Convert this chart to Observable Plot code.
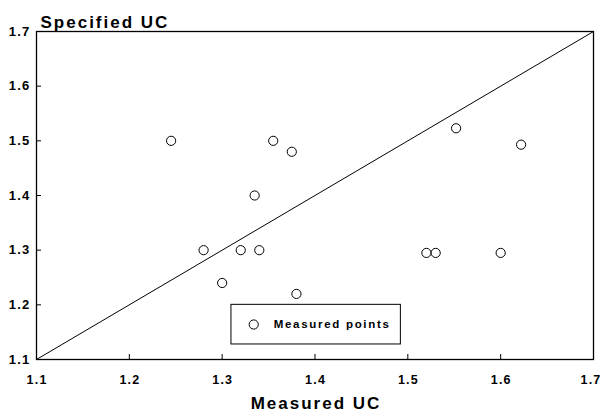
<!DOCTYPE html>
<html>
<head>
<meta charset="utf-8">
<script src="https://cdn.jsdelivr.net/npm/d3@7"></script>
<script src="https://cdn.jsdelivr.net/npm/@observablehq/plot@0.6"></script>
<style>
  html, body { margin: 0; padding: 0; background: #fff; }
  #chart svg { font-family: "Liberation Sans", Arial, Helvetica, sans-serif; font-weight: bold; }
</style>
</head>
<body>
<div id="chart"></div>
<script>
// Data
const measuredUC  = [1.245, 1.355, 1.375, 1.335, 1.28, 1.32, 1.34, 1.30, 1.38, 1.552, 1.622, 1.52, 1.53, 1.60];
const specifiedUC = [1.50, 1.50, 1.48, 1.40, 1.30, 1.30, 1.30, 1.24, 1.22, 1.523, 1.493, 1.295, 1.295, 1.295];
const xTicks = [1.1, 1.2, 1.3, 1.4, 1.5, 1.6, 1.7];
const yTicks = [1.1, 1.2, 1.3, 1.4, 1.5, 1.6, 1.7];
const identityLine = [1.1, 1.7];
const xTitle = "Measured UC";
const yTitle = "Specified UC";
const legendLabel = "Measured points";

const points = measuredUC.map((m, i) => ({measured: m, specified: specifiedUC[i]}));

const W = 603, H = 420;
const mT = 31, mB = 61, mL = 36, mR = 10;
const plotH = H - mT - mB;
const plotW = W - mL - mR;

// legend box placement (data space of the chart)
const leg = {x1: 1.31, x2: 1.4925, y1: 1.1275, y2: 1.2, cx: 1.334, cy: 1.164};

const innerX = xTicks.slice(0, -1);
const lastX = xTicks.slice(-1);

const chart = Plot.plot({
  width: W,
  height: H,
  marginTop: mT,
  marginBottom: mB,
  marginLeft: mL,
  marginRight: mR,
  x: {domain: [1.1, 1.7], axis: null},
  y: {domain: [1.1, 1.7], axis: null},
  marks: [
    Plot.line(identityLine, {x: d => d, y: d => d, stroke: "black", strokeWidth: 1}),
    Plot.ruleX(xTicks, {x: d => d, insetTop: plotH - 5, stroke: "black", strokeWidth: 1}),
    Plot.ruleY(yTicks, {y: d => d, insetRight: plotW - 5, stroke: "black", strokeWidth: 1}),
    Plot.text(innerX, {x: d => d, text: d => d.toFixed(1), frameAnchor: "bottom", dy: 24, dx: 0.6, fontSize: 12.5, fill: "black"}),
    Plot.text(lastX, {x: d => d, text: d => d.toFixed(1), frameAnchor: "bottom", dy: 24, dx: 8, textAnchor: "end", fontSize: 12.5, fill: "black"}),
    Plot.text(yTicks, {y: d => d, text: d => d.toFixed(1), frameAnchor: "left", dx: -6, textAnchor: "end", fontSize: 13, fill: "black"}),
    Plot.dot(points, {x: "measured", y: "specified", r: 4.6, stroke: "black", strokeWidth: 1, fill: "white"}),
    Plot.rect([legendLabel], {x1: leg.x1, x2: leg.x2, y1: leg.y1, y2: leg.y2, fill: "white", stroke: "black", strokeWidth: 1}),
    Plot.dot([legendLabel], {x: leg.cx, y: leg.cy, r: 4.6, stroke: "black", strokeWidth: 1, fill: "white"}),
    Plot.text([legendLabel], {x: leg.cx, y: leg.cy, text: d => d, dx: 20, textAnchor: "start", fontSize: 11.5, fill: "black"}),
    Plot.frame({stroke: "black", strokeWidth: 1.3}),
    Plot.text([yTitle], {text: d => d, frameAnchor: "top-left", dx: 4, dy: -16, textAnchor: "start", fontSize: 17, fill: "black"}),
    Plot.text([xTitle], {text: d => d, frameAnchor: "bottom", dy: 49, dx: 1, fontSize: 17, fill: "black"})
  ]
});

// widen the lettering to match the stretched typeface of the reference
const innerSet = new Set(innerX.map(d => d.toFixed(1)));
const ySet = new Set(yTicks.map(d => d.toFixed(1)));
d3.select(chart).selectAll("text").each(function() {
  const t = this.textContent;
  if (t === xTitle || t === yTitle) this.style.letterSpacing = "2px";
  else if (t === legendLabel) this.style.letterSpacing = "1.7px";
  else if (innerSet.has(t) || ySet.has(t)) {
    if (this.getAttribute("text-anchor") !== "end" || ySet.has(t)) this.style.letterSpacing = "1.2px";
  }
});
// the right-most x label stays without extra spacing so it fits the window
d3.select(chart).selectAll("text").filter(function() {
  return this.textContent === lastX[0].toFixed(1) && this.closest("g") && this.closest("g").getAttribute("text-anchor") === "end" && this.getAttribute("y") && +this.getAttribute("y") > H - mB;
}).style("letter-spacing", null);

document.getElementById("chart").appendChild(chart);
</script>
</body>
</html>
